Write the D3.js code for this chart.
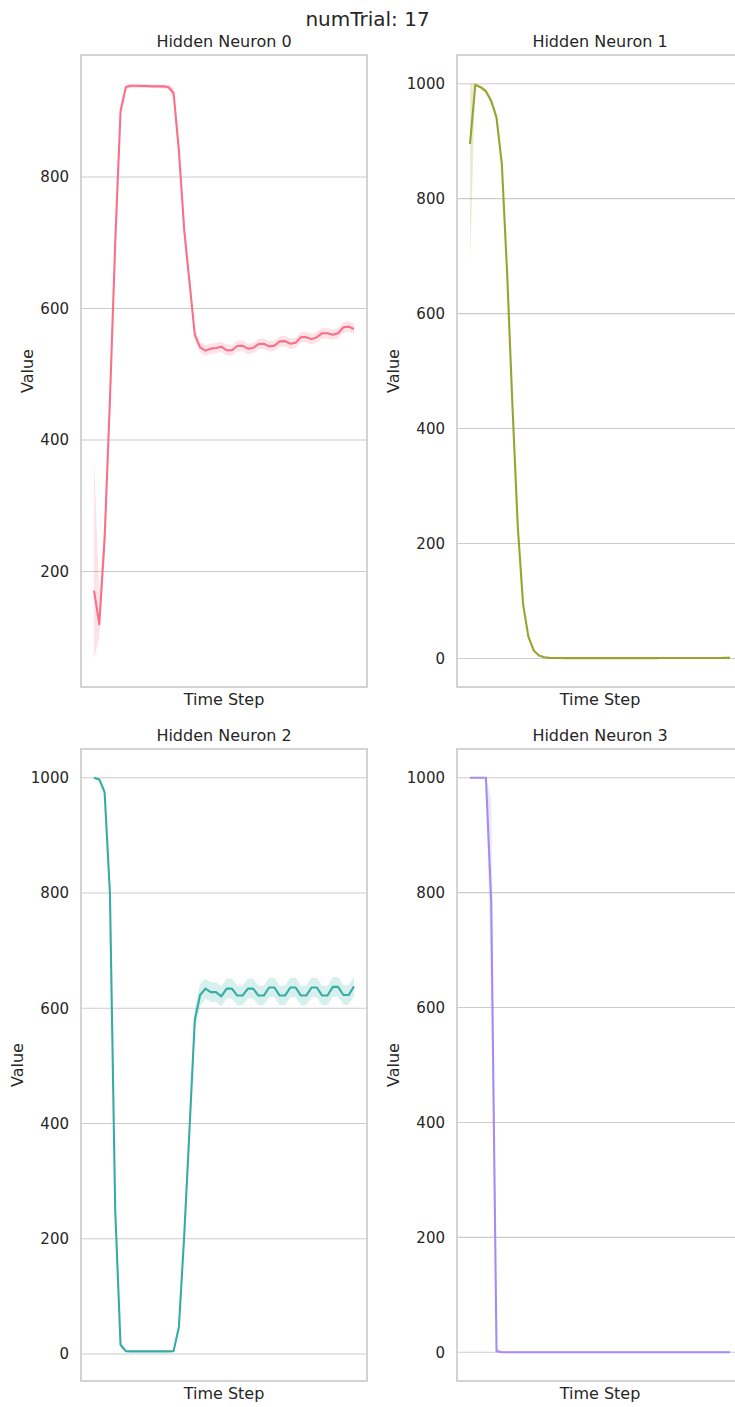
<!DOCTYPE html>
<html><head><meta charset="utf-8">
<script src="https://cdn.jsdelivr.net/npm/d3@7/dist/d3.min.js"></script>
<style>
body{margin:0;background:#fff}
svg{display:block}
text{font-family:"DejaVu Sans",sans-serif;fill:#262626}
</style>
</head><body>
<svg id="c" width="735" height="1407"></svg>
<script>
const figTitle = "numTrial: 17";
const panelTitles = ["Hidden Neuron 0","Hidden Neuron 1","Hidden Neuron 2","Hidden Neuron 3"];
const xLabel = "Time Step";
const yLabel = "Value";
const colors = ["#f77189","#97a431","#36ada4","#a48cf4"];
const timeSteps = [0,1,2,3,4,5,6,7,8,9,10,11,12,13,14,15,16,17,18,19,20,21,22,23,24,25,26,27,28,29,30,31,32,33,34,35,36,37,38,39,40,41,42,43,44,45,46,47,48,49];

const mean0 = [171,120,250,460,700,900,937,939,939,938.5,938.5,938,938,938,937,928,840,720,640,560,541,536,539,540,542,536.5,536.5,543,543.5,539,540,546,546.5,542.5,543.5,550,550.5,546.5,548,556.5,556.5,553.5,556.5,562.5,562.5,560,562.5,571.5,572.5,569];
const lo0 = [68,100,225,440,685,890,933,936,936,935.5,935.5,935,935,935,933,920,825,705,628,550,533,528,531,532,534,528.5,528.5,535,535.5,531,532,538,538.5,534.5,535.5,542,542.5,538.5,540,548.5,548.5,545.5,548.5,554.5,554.5,552,554.5,563.5,564.5,561];
const hi0 = [373,165,275,480,715,910,941,942,942,941.5,941.5,941,941,941,941,936,855,735,652,570,549,544,547,548,550,544.5,544.5,551,551.5,547,548,554,554.5,550.5,551.5,558,558.5,554.5,556,564.5,564.5,561.5,564.5,570.5,570.5,568,570.5,579.5,580.5,577];

const mean1 = [895,998,994,987,970,941,860,670,440,230,95,38,14,5,2,1,0.8,0.7,0.6,0.6,0.5,0.5,0.5,0.5,0.5,0.5,0.5,0.5,0.5,0.5,0.6,0.6,0.6,0.6,0.6,0.6,0.7,0.7,0.7,0.7,0.7,0.8,0.8,0.8,0.8,0.9,0.9,0.9,1,1];
const lo1 = [686,996,991,983,964,932,848,655,425,218,88,34,12,4,1.5,0.7,0.6,0.5,0.4,0.4,0.3,0.3,0.3,0.3,0.3,0.3,0.3,0.3,0.3,0.3,0.4,0.4,0.4,0.4,0.4,0.4,0.5,0.5,0.5,0.5,0.5,0.6,0.6,0.6,0.6,0.7,0.7,0.7,0.8,0.8];
const hi1 = [1000,1000,997,991,976,950,872,685,455,242,102,42,16,6,2.5,1.3,1,0.9,0.8,0.8,0.7,0.7,0.7,0.7,0.7,0.7,0.7,0.7,0.7,0.7,0.8,0.8,0.8,0.8,0.8,0.8,0.9,0.9,0.9,0.9,0.9,1,1,1,1,1.1,1.1,1.1,1.2,1.2];

const mean2 = [1000,997,975,800,250,16,5,4.5,4.5,4.5,4.5,4.5,4.5,4.5,4.5,5,47,205,390,580,623,634,628,628,620.5,634,634,622,622,634,634,622,622,636,636,622,622,636,636,622,622,636,636,622,622,637,637,623,623,638];
const lo2 = [998,994,968,785,235,10,3,3,3,3,3,3,3,3,3,3.5,40,195,375,560,603,617,611,611,603,617,617,605,605,617,617,605,605,619,619,605,605,619,619,605,605,619,619,605,605,620,620,606,606,621];
const hi2 = [1000,999,982,815,265,22,7,6,6,6,6,6,6,6,6,6.5,55,215,405,600,643,651,645,645,638,651,651,639,639,651,651,639,639,653,653,639,639,653,653,639,639,653,653,639,639,654,654,640,640,655];

const mean3 = [1000,1000,1000,1000,785,2,0,0,0,0,0,0,0,0,0,0,0,0,0,0,0,0,0,0,0,0,0,0,0,0,0,0,0,0,0,0,0,0,0,0,0,0,0,0,0,0,0,0,0,0];
const lo3 = [1000,1000,1000,999,620,0,0,0,0,0,0,0,0,0,0,0,0,0,0,0,0,0,0,0,0,0,0,0,0,0,0,0,0,0,0,0,0,0,0,0,0,0,0,0,0,0,0,0,0,0];
const hi3 = [1000,1000,1000,1000,962,8,0,0,0,0,0,0,0,0,0,0,0,0,0,0,0,0,0,0,0,0,0,0,0,0,0,0,0,0,0,0,0,0,0,0,0,0,0,0,0,0,0,0,0,0];

const yTicks0 = [200,400,600,800];
const yTicks1 = [0,200,400,600,800,1000];
const yTicks2 = [0,200,400,600,800,1000];
const yTicks3 = [0,200,400,600,800,1000];

const series = [
  {mean:mean0, lo:lo0, hi:hi0, ticks:yTicks0},
  {mean:mean1, lo:lo1, hi:hi1, ticks:yTicks1},
  {mean:mean2, lo:lo2, hi:hi2, ticks:yTicks2},
  {mean:mean3, lo:lo3, hi:hi3, ticks:yTicks3}
];

const svg = d3.select("#c");
const W = 286, H = 632;
const boxes = [{l:81,t:55},{l:457,t:55},{l:81,t:749},{l:457,t:749}];
const yLabelX = [27, 393, 17, 393];

svg.append("text").attr("x",367.5).attr("y",26).attr("text-anchor","middle")
  .style("font-size","20px").text(figTitle);

series.forEach((s,k)=>{
  const b = boxes[k];
  const x0 = d3.min(timeSteps), x1 = d3.max(timeSteps), xr = x1-x0;
  const x = d3.scaleLinear().domain([x0-0.05*xr, x1+0.05*xr]).range([b.l, b.l+W]);
  const ymin = d3.min(s.lo), ymax = d3.max(s.hi), yr = ymax-ymin;
  const y = d3.scaleLinear().domain([ymin-0.05*yr, ymax+0.05*yr]).range([b.t+H, b.t]);
  const g = svg.append("g");
  g.selectAll("line.grid").data(s.ticks).join("line")
    .attr("x1",b.l).attr("x2",b.l+W)
    .attr("y1",d=>y(d)).attr("y2",d=>y(d))
    .attr("stroke","#cccccc").attr("stroke-width",1.1);
  const ax = g.append("g").attr("transform",`translate(${b.l},0)`)
    .call(d3.axisLeft(y).tickValues(s.ticks).tickSize(0).tickPadding(12).tickFormat(d3.format("d")));
  ax.select(".domain").remove();
  ax.selectAll("text").style("font-size","15px").style("font-family","DejaVu Sans, sans-serif").attr("fill","#262626");
  const idx = timeSteps.map((t,i)=>i);
  const area = d3.area().x(i=>x(timeSteps[i])).y0(i=>y(s.lo[i])).y1(i=>y(s.hi[i]));
  const line = d3.line().x(i=>x(timeSteps[i])).y(i=>y(s.mean[i]));
  g.append("path").attr("d",area(idx)).attr("fill",colors[k]).attr("fill-opacity",0.2).attr("stroke","none");
  g.append("path").attr("d",line(idx)).attr("fill","none").attr("stroke",colors[k])
    .attr("stroke-width",2.1).attr("stroke-linejoin","round");
  g.append("rect").attr("x",b.l).attr("y",b.t).attr("width",W).attr("height",H)
    .attr("fill","none").attr("stroke","#cccccc").attr("stroke-width",1.7);
  g.append("text").attr("x",b.l+W/2).attr("y",b.t-8.3).attr("text-anchor","middle")
    .style("font-size","16px").text(panelTitles[k]);
  g.append("text").attr("x",b.l+W/2).attr("y",b.t+H+18).attr("text-anchor","middle")
    .style("font-size","16px").text(xLabel);
  const cy = b.t+H/2;
  g.append("text").attr("transform",`translate(${yLabelX[k]},${cy}) rotate(-90)`)
    .attr("text-anchor","middle").attr("dy","0.36em")
    .style("font-size","16px").text(yLabel);
});
</script>
</body></html>
